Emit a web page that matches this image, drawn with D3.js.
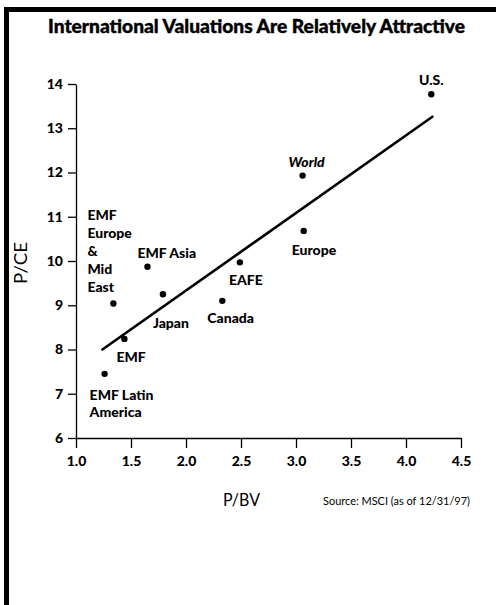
<!DOCTYPE html>
<html><head><meta charset="utf-8">
<script src="https://cdn.jsdelivr.net/npm/d3@7"></script>
<style>
html,body{margin:0;padding:0;background:#fff;}
svg{display:block;}
text{font-family:Lato,"Open Sans",sans-serif;fill:#000;}
</style></head>
<body>
<svg id="chart" width="496" height="605"></svg>
<script>
// ---- data ----
const markets = ["U.S.", "World", "Europe", "EAFE", "Canada", "Japan", "EMF Asia", "EMF Europe & Mid East", "EMF", "EMF Latin America"];
const pbv = [4.23, 3.06, 3.07, 2.49, 2.33, 1.79, 1.65, 1.34, 1.44, 1.26];
const pce = [13.77, 11.93, 10.68, 9.97, 9.10, 9.25, 9.87, 9.04, 8.24, 7.45];
const trendPBV = [1.24, 4.24];
const trendPCE = [8.0, 13.26];
const xTicks = [1.0, 1.5, 2.0, 2.5, 3.0, 3.5, 4.0, 4.5];
const yTicks = [6, 7, 8, 9, 10, 11, 12, 13, 14];
const titleText = "International Valuations Are Relatively Attractive";
const xLabel = "P/BV";
const yLabel = "P/CE";
const sourceText = "Source: MSCI (as of 12/31/97)";

// ---- label layout (offsets from point, px) ----
const labelLayout = [
  {lines:["U.S."], dx:0, dy:-9, anchor:"middle"},
  {lines:["World"], dx:4, dy:-9, anchor:"middle", italic:true},
  {lines:["Europe"], dx:-12, dy:24, anchor:"start"},
  {lines:["EAFE"], dx:-11, dy:23, anchor:"start"},
  {lines:["Canada"], dx:-15, dy:22, anchor:"start"},
  {lines:["Japan"], dx:-10, dy:34, anchor:"start"},
  {lines:["EMF Asia"], dx:-10, dy:-9, anchor:"start"},
  {lines:["EMF","Europe","&","Mid","East"], dx:-26, dy:-83, anchor:"start", lh:18},
  {lines:["EMF"], dx:-8, dy:23, anchor:"start"},
  {lines:["EMF Latin","America"], dx:-15, dy:26, anchor:"start", lh:17}
];

const svg = d3.select("#chart");

// frame
svg.append("line").attr("x1",6.5).attr("x2",6.5).attr("y1",7).attr("y2",605)
  .attr("stroke","#000").attr("stroke-width",5);
svg.append("line").attr("x1",4).attr("x2",496).attr("y1",9.5).attr("y2",9.5)
  .attr("stroke","#000").attr("stroke-width",5);

// title
svg.append("text").attr("x",48).attr("y",33)
  .attr("font-size",18.5).attr("font-weight",900)
  .attr("stroke","#000").attr("stroke-width",0.4)
  .attr("textLength",417).attr("lengthAdjust","spacingAndGlyphs")
  .text(titleText);

const x = d3.scaleLinear().domain([1,4.5]).range([76,461]);
const y = d3.scaleLinear().domain([6,14]).range([438,84]);

const xAxis = d3.axisBottom(x).tickValues(xTicks).tickFormat(d3.format(".1f"))
  .tickSize(10).tickSizeOuter(0).tickPadding(8);
const yAxis = d3.axisLeft(y).tickValues(yTicks).tickFormat(d3.format("d"))
  .tickSize(8).tickSizeOuter(0).tickPadding(5);

const gx = svg.append("g").attr("transform","translate(0,438)").call(xAxis);
const gy = svg.append("g").attr("transform","translate(76,0)").call(yAxis);
[gx,gy].forEach(g=>{
  g.selectAll("path,line").attr("stroke","#000").attr("stroke-width",1.3);
  g.selectAll("text").attr("font-size",14).attr("font-weight",900).attr("fill","#000")
    .attr("font-family","Lato, sans-serif");
});

// axis labels
svg.append("text").attr("transform","translate(27,263) rotate(-90)")
  .attr("text-anchor","middle").attr("font-size",17)
  .attr("textLength",42).attr("lengthAdjust","spacingAndGlyphs")
  .text(yLabel);
svg.append("text").attr("x",241.5).attr("y",506)
  .attr("text-anchor","middle").attr("font-size",18)
  .attr("textLength",37).attr("lengthAdjust","spacingAndGlyphs")
  .text(xLabel);
svg.append("text").attr("x",323).attr("y",505)
  .attr("font-size",11.5)
  .attr("textLength",147).attr("lengthAdjust","spacingAndGlyphs")
  .text(sourceText);

// trend line
svg.append("line")
  .attr("x1",x(trendPBV[0])).attr("y1",y(trendPCE[0]))
  .attr("x2",x(trendPBV[1])).attr("y2",y(trendPCE[1]))
  .attr("stroke","#000").attr("stroke-width",2.6).attr("stroke-linecap","round");

// points
const pts = markets.map((m,i)=>({name:m, x:pbv[i], y:pce[i], lay:labelLayout[i]}));
svg.append("g").selectAll("circle").data(pts).join("circle")
  .attr("cx",d=>x(d.x)).attr("cy",d=>y(d.y)).attr("r",3.2).attr("fill","#000");

// labels
const lg = svg.append("g");
pts.forEach(d=>{
  const L = d.lay;
  const t = lg.append("text")
    .attr("x",x(d.x)+L.dx).attr("y",y(d.y)+L.dy)
    .attr("text-anchor",L.anchor).attr("font-size",14).attr("font-weight",900)
    .attr("font-style",L.italic?"italic":"normal");
  L.lines.forEach((ln,j)=>{
    t.append("tspan").attr("x",x(d.x)+L.dx).attr("dy", j===0?0:(L.lh||18)).text(ln);
  });
});
</script>
</body></html>
